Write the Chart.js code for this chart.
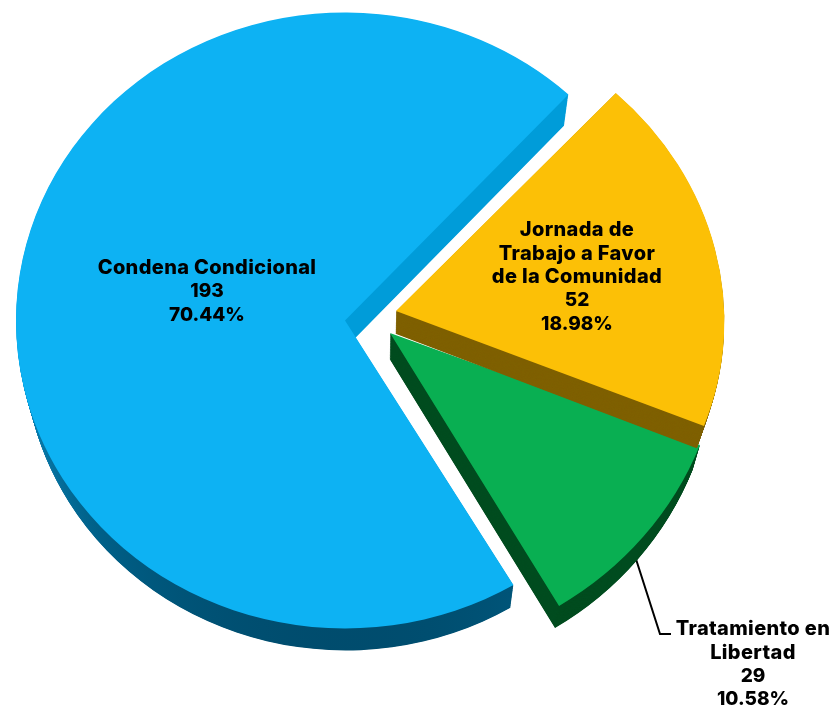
<!DOCTYPE html>
<html><head><meta charset="utf-8">
<style>html,body{margin:0;padding:0;background:#fff}canvas{display:block}</style>
<script src="https://cdn.jsdelivr.net/npm/chart.js@4"></script>
</head><body>
<canvas id="c" width="836" height="707"></canvas>
<script>
const categories = ["Condena Condicional", "Jornada de Trabajo a Favor de la Comunidad", "Tratamiento en Libertad"];
const counts = [193, 52, 29];
const percents = ["70.44%", "18.98%", "10.58%"];
const labelLines = [["Condena Condicional"], ["Jornada de", "Trabajo a Favor", "de la Comunidad"], ["Tratamiento en", "Libertad"]];
const topColors = ["#0DB2F3", "#FCC006", "#09AF52"];
const wallColors = [null, "#7F6000", "#004C1F"];

// per-slice placement: screen centre, 2x2 matrix, wall depth model
const pieceX = [345, 396, 390];
const pieceY = [320.5, 311, 333];
const pieceMatrix = [[1, 0, 0, 0.936], [0.9982, 0.0132, 0.0194, 0.921], [1.0116, -0.0048, -0.0099, 0.9716]];
const wallC = [32.6, 24, 31];
const wallK = [0.0168, 0.004, 0.0147];
const drawOrder = [0, 2, 1];
const labelX = [207, 577, 753];
const labelY = [268, 230, 629];
const lineH = 23.5;
const vanishX = 375, shrinkX = 0.022;

const pie3d = {
  id: "pie3d",
  beforeDatasetsDraw(chart) {
    const ctx = chart.ctx, arcs = chart.getDatasetMeta(0).data;
    const Xc = arcs[0].x, Yc = arcs[0].y;
    ctx.save();
    ctx.strokeStyle = "#000"; ctx.lineWidth = 2;
    ctx.beginPath(); ctx.moveTo(635, 556); ctx.lineTo(660, 634); ctx.lineTo(671, 634); ctx.stroke();
    ctx.restore();
    for (const i of drawOrder) {
      const arc = arcs[i], base = arc.options;
      const [a, b, c, d] = pieceMatrix[i], px = pieceX[i], py = pieceY[i];
      const setT = (t) => {
        const qx = 1 - t * shrinkX, qy = 1 - t * wallK[i];
        ctx.setTransform(a * qx, c * qy, b * qx, d * qy,
          (px - a * Xc - b * Yc) * qx + t * shrinkX * vanishX,
          (py - c * Xc - d * Yc) * qy + t * wallC[i]);
      };
      let wall = wallColors[i];
      if (!wall) {
        const toY = (y) => (y - py) / d + Yc;
        wall = ctx.createLinearGradient(0, toY(330), 0, toY(650));
        wall.addColorStop(0, "#009CD9");
        wall.addColorStop(0.28, "#0878A8");
        wall.addColorStop(0.6, "#006088");
        wall.addColorStop(1, "#004868");
      }
      arc.options = Object.assign({}, base, { backgroundColor: wall, borderWidth: 0 });
      ctx.save();
      const steps = 40;
      for (let s = steps; s > 0; s--) { setT(s / steps); arc.draw(ctx); }
      arc.options = base;
      setT(0);
      arc.draw(ctx);
      ctx.restore();
    }
    ctx.setTransform(1, 0, 0, 1, 0, 0);
    return false;
  },
  afterDraw(chart) {
    const ctx = chart.ctx;
    ctx.save();
    ctx.setTransform(1, 0, 0, 1, 0, 0);
    ctx.fillStyle = "#000";
    ctx.textAlign = "center"; ctx.textBaseline = "middle";
    labelLines.forEach((ls, i) => {
      ctx.font = "800 20px Inter, 'DejaVu Sans', sans-serif";
      ctx.letterSpacing = "0.35px";
      ls.forEach((t, k) => ctx.fillText(t, labelX[i], labelY[i] + k * lineH));
      ctx.font = "800 19px Inter, 'DejaVu Sans', sans-serif";
      ctx.letterSpacing = "0px";
      [String(counts[i]), percents[i]].forEach((t, k) => ctx.fillText(t, labelX[i], labelY[i] + (ls.length + k) * lineH));
    });
    ctx.restore();
  }
};

new Chart(document.getElementById("c"), {
  type: "pie",
  data: { labels: categories, datasets: [{ data: counts, backgroundColor: topColors, borderWidth: 0 }] },
  options: {
    responsive: false, animation: false, radius: 329, rotation: 149.2,
    layout: { padding: 0 },
    plugins: { legend: { display: false }, tooltip: { enabled: false } }
  },
  plugins: [pie3d]
});
</script>
</body></html>
